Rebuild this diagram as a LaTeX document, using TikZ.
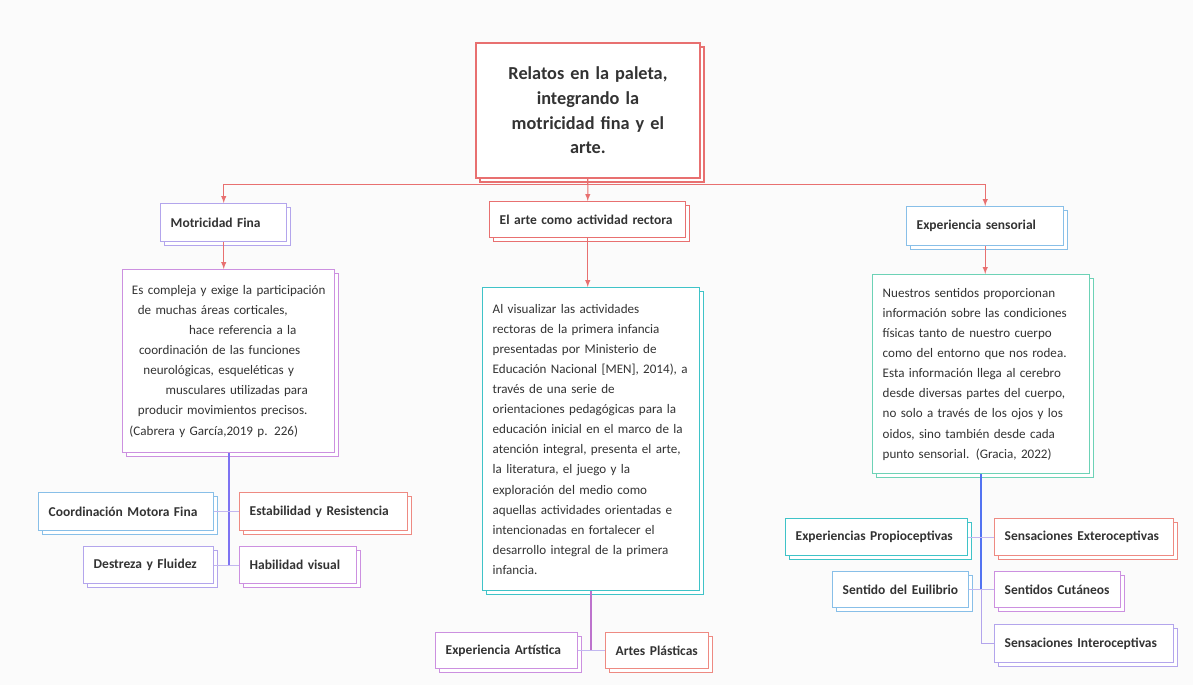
\documentclass[tikz,border=0pt]{standalone}
\usepackage{fontspec}
\setmainfont{Carlito}
\usepackage{tikz}
\usetikzlibrary{arrows.meta}
\usetikzlibrary{positioning}
\usetikzlibrary{shadows}
\usetikzlibrary{calc}
\definecolor{redC}{HTML}{E87070}
\definecolor{salmonC}{HTML}{EE8A82}
\definecolor{lavC}{HTML}{B3A5EC}
\definecolor{orchidC}{HTML}{CC90E0}
\definecolor{cyanC}{HTML}{3FC3C8}
\definecolor{tealC}{HTML}{6DD2B6}
\definecolor{blueC}{HTML}{88BFE8}
\definecolor{inkC}{HTML}{333333}
\definecolor{bgC}{HTML}{FBFBFB}
\tikzstyle{box}=[draw=#1,fill=white,line width=1pt,inner ysep=0pt,inner xsep=0.25cm,anchor=north west,text=inkC,
  preaction={draw=#1,fill=white,transform canvas={shift={(1mm,-1mm)}}}]
\tikzstyle{tag}=[box=#1,font=\bfseries\fontsize{9.6}{11}\selectfont,align=left]
\tikzstyle{txt}=[box=#1,font=\fontsize{9.3}{14.3}\selectfont,align=left]
\tikzstyle{conn}=[->,>=latex,draw=redC,line width=0.7pt]
\tikzstyle{link}=[draw=lavC!80,line width=0.6pt]

\begin{document}
\begin{tikzpicture}[x=0.025cm,y=-0.025cm]
\fill[bgC] (0,0) rectangle (1193,685);
\useasboundingbox (0,0) rectangle (1193,685);

% root
\node[box=redC,line width=1.3pt,text width=5.1cm,minimum height=3.375cm,align=center,
  font=\bfseries\fontsize{13}{17.5}\selectfont] (title) at (475,42)
  {Relatos en la paleta,\\ integrando la\\ motricidad fina y el\\ arte.};

% first level
\node[tag=lavC,text width=2.65cm,minimum height=0.95cm] (mf) at (160,203) {Motricidad Fina};
\node[tag=redC,text width=4.4cm,minimum height=0.9cm] (arte) at (489,201) {El arte como actividad rectora};
\node[tag=blueC,text width=3.425cm,minimum height=0.975cm] (sens) at (906,206) {Experiencia sensorial};

% text boxes
\node[txt=orchidC,text width=5.3cm,inner xsep=0pt,minimum height=4.575cm,align=center] (mfT) at (122,269)
  {Es compleja y exige la participación\\
   de muchas áreas corticales,\hspace*{0.8cm}\mbox{}\\
   \hspace*{0.7cm}hace referencia a la\\
   coordinación de las funciones\hspace*{0.45cm}\mbox{}\\
   neurológicas, esqueléticas y\hspace*{0.5cm}\mbox{}\\
   \hspace*{0.4cm}musculares utilizadas para\\
   producir movimientos precisos.\hspace*{0.3cm}\mbox{}\\
   (Cabrera y García,2019 p. 226)\hspace*{0.75cm}\mbox{}};
\node[txt=cyanC,text width=4.925cm,minimum height=7.575cm] (arteT) at (482,287)
  {Al visualizar las actividades\\
   rectoras de la primera infancia\\
   presentadas por Ministerio de\\
   Educación Nacional [MEN], 2014), a\\
   través de una serie de\\
   orientaciones pedagógicas para la\\
   educación inicial en el marco de la\\
   atención integral, presenta el arte,\\
   la literatura, el juego y la\\
   exploración del medio como\\
   aquellas actividades orientadas e\\
   intencionadas en fortalecer el\\
   desarrollo integral de la primera\\
   infancia.};
\node[txt=tealC,text width=4.925cm,minimum height=4.975cm] (sensT) at (872,274)
  {Nuestros sentidos proporcionan\\
   información sobre las condiciones\\
   físicas tanto de nuestro cuerpo\\
   como del entorno que nos rodea.\\
   Esta información llega al cerebro\\
   desde diversas partes del cuerpo,\\
   no solo a través de los ojos y los\\
   oidos, sino también desde cada\\
   punto sensorial. (Gracia, 2022)};

% leaves
\node[tag=blueC,text width=3.875cm,minimum height=0.95cm] (coord) at (38,492) {Coordinación Motora Fina};
\node[tag=salmonC,text width=3.7cm,minimum height=0.95cm] (esta) at (239,492) {Estabilidad y Resistencia};
\node[tag=lavC,text width=2.75cm,minimum height=0.925cm] (dest) at (83,546) {Destreza y Fluidez};
\node[tag=orchidC,text width=2.425cm,minimum height=0.925cm] (hab) at (239,546) {Habilidad visual};

\node[tag=orchidC,text width=3.05cm,minimum height=0.9cm] (expA) at (435,632) {Experiencia Artística};
\node[tag=salmonC,text width=2.075cm,minimum height=0.9cm] (artes) at (605,632) {Artes Plásticas};

\node[tag=cyanC,text width=4.05cm,minimum height=0.925cm] (prop) at (785,518) {Experiencias Propioceptivas};
\node[tag=salmonC,text width=3.975cm,minimum height=0.925cm] (exte) at (994,518) {Sensaciones Exteroceptivas};
\node[tag=blueC,text width=2.9cm,minimum height=0.9cm] (equi) at (832,571) {Sentido del Euilibrio};
\node[tag=orchidC,text width=2.65cm,minimum height=0.9cm] (cuta) at (994,571) {Sentidos Cutáneos};
\node[tag=lavC,text width=3.975cm,minimum height=0.95cm] (intero) at (994,624) {Sensaciones Interoceptivas};

% arrows from the root
\draw[conn] (title.south) -- ++(0,6) -| (mf.north);
\draw[conn] (title.south) -- ++(0,6) -| (sens.north);
\draw[conn] (title.south) -- (arte.north);
\draw[conn] (mf.south) -- (mf.south |- mfT.north);
\draw[conn] (arte.south) -- (arte.south |- arteT.north);
\draw[conn] (sens.south) -- (sens.south |- sensT.north);

% trunks and links
\draw[draw=lavC!70!blue,line width=1.3pt] (mfT.south) -- (mfT.south |- hab.west);
\draw[link] (coord.east) -- (esta.west);
\draw[link] (dest.east) -- (hab.west);
\draw[draw=orchidC!80!violet,line width=1.3pt] (arteT.south) -- (arteT.south |- expA.east);
\draw[link] (expA.east) -- (artes.west);
\draw[draw=blueC!60!blue,line width=1.3pt] (sensT.south) -- (sensT.south |- equi.east);
\draw[draw=lavC,line width=1pt] (sensT.south |- equi.east) |- (intero.west);
\draw[link] (prop.east) -- (exte.west);
\draw[link] (equi.east) -- (cuta.west);
\end{tikzpicture}
\end{document}
